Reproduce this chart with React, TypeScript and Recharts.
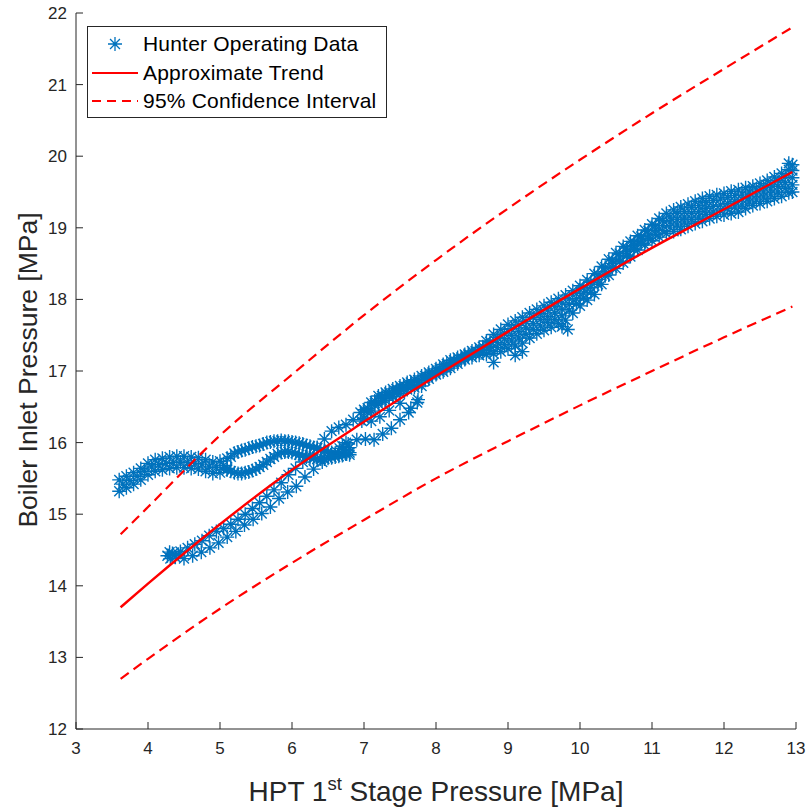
import React from 'react';
import { ComposedChart, Scatter, Line, XAxis, YAxis } from 'recharts';

const BLUE = '#0072BD';
const RED = '#FF0000';
const AXIS = '#262626';
const FONT = '"Liberation Sans", Arial, Helvetica, sans-serif';

const xTicks = [3, 4, 5, 6, 7, 8, 9, 10, 11, 12, 13];
const yTicks = [12, 13, 14, 15, 16, 17, 18, 19, 20, 21, 22];

// Dense operating band (x = 7.0 … 12.9)
const bandX = [7.0, 7.1, 7.2, 7.3, 7.4, 7.5, 7.6, 7.7, 7.8, 7.9, 8.0, 8.1, 8.2, 8.3, 8.4, 8.5, 8.6, 8.7, 8.8, 8.9, 9.0, 9.1, 9.2, 9.3, 9.4, 9.5, 9.6, 9.7, 9.8, 9.9, 10.0, 10.1, 10.2, 10.3, 10.4, 10.5, 10.6, 10.7, 10.8, 10.9, 11.0, 11.1, 11.2, 11.3, 11.4, 11.5, 11.6, 11.7, 11.8, 11.9, 12.0, 12.1, 12.2, 12.3, 12.4, 12.5, 12.6, 12.7, 12.8, 12.9];
const bandTopY = [16.46, 16.56, 16.65, 16.70, 16.75, 16.79, 16.84, 16.88, 16.93, 16.98, 17.03, 17.09, 17.15, 17.19, 17.23, 17.28, 17.33, 17.42, 17.51, 17.58, 17.65, 17.70, 17.75, 17.81, 17.86, 17.91, 17.96, 18.01, 18.06, 18.12, 18.19, 18.27, 18.36, 18.46, 18.56, 18.65, 18.74, 18.81, 18.89, 18.97, 19.05, 19.13, 19.20, 19.25, 19.29, 19.33, 19.37, 19.41, 19.44, 19.46, 19.48, 19.51, 19.53, 19.56, 19.58, 19.62, 19.66, 19.71, 19.76, 19.81];
const bandBotY = [16.34, 16.44, 16.54, 16.59, 16.64, 16.69, 16.74, 16.77, 16.79, 16.89, 16.95, 16.99, 17.04, 17.10, 17.16, 17.19, 17.22, 17.23, 17.24, 17.27, 17.31, 17.35, 17.39, 17.46, 17.52, 17.57, 17.61, 17.66, 17.71, 17.81, 17.91, 17.99, 18.07, 18.21, 18.34, 18.43, 18.51, 18.60, 18.69, 18.76, 18.82, 18.87, 18.92, 18.95, 18.98, 19.02, 19.06, 19.09, 19.13, 19.16, 19.18, 19.20, 19.22, 19.27, 19.31, 19.34, 19.37, 19.41, 19.44, 19.49];
const bandMidX = [7.05, 7.15, 7.25, 7.35, 7.45, 7.55, 7.65, 7.75, 7.85, 7.95, 8.05, 8.15, 8.25, 8.35, 8.45, 8.55, 8.65, 8.75, 8.85, 8.95, 9.05, 9.15, 9.25, 9.35, 9.45, 9.55, 9.65, 9.75, 9.85, 9.95, 10.05, 10.15, 10.25, 10.35, 10.45, 10.55, 10.65, 10.75, 10.85, 10.95, 11.05, 11.15, 11.25, 11.35, 11.45, 11.55, 11.65, 11.75, 11.85, 11.95, 12.05, 12.15, 12.25, 12.35, 12.45, 12.55, 12.65, 12.75, 12.85];
const bandMidY = [16.45, 16.55, 16.62, 16.67, 16.72, 16.76, 16.81, 16.84, 16.90, 16.96, 17.01, 17.07, 17.12, 17.17, 17.22, 17.26, 17.30, 17.35, 17.40, 17.45, 17.50, 17.55, 17.60, 17.66, 17.72, 17.76, 17.81, 17.86, 17.93, 18.01, 18.09, 18.17, 18.28, 18.39, 18.50, 18.58, 18.67, 18.75, 18.83, 18.90, 18.97, 19.03, 19.08, 19.12, 19.15, 19.20, 19.23, 19.27, 19.30, 19.32, 19.34, 19.37, 19.40, 19.43, 19.46, 19.50, 19.54, 19.58, 19.63];
const bandUpperMidY = [16.48, 16.58, 16.65, 16.70, 16.75, 16.79, 16.84, 16.87, 16.93, 16.98, 17.04, 17.10, 17.15, 17.19, 17.24, 17.28, 17.34, 17.41, 17.47, 17.53, 17.59, 17.64, 17.69, 17.75, 17.80, 17.85, 17.90, 17.95, 18.01, 18.08, 18.16, 18.24, 18.35, 18.45, 18.55, 18.64, 18.72, 18.80, 18.88, 18.96, 19.03, 19.10, 19.15, 19.20, 19.23, 19.28, 19.31, 19.35, 19.38, 19.40, 19.42, 19.45, 19.47, 19.50, 19.53, 19.57, 19.61, 19.66, 19.71];
const bandLowerMidY = [16.42, 16.52, 16.59, 16.64, 16.69, 16.74, 16.78, 16.81, 16.87, 16.94, 16.99, 17.04, 17.10, 17.15, 17.20, 17.23, 17.26, 17.29, 17.33, 17.37, 17.42, 17.46, 17.51, 17.58, 17.63, 17.68, 17.72, 17.77, 17.85, 17.94, 18.02, 18.10, 18.21, 18.33, 18.44, 18.53, 18.61, 18.70, 18.78, 18.85, 18.91, 18.96, 19.01, 19.04, 19.08, 19.12, 19.15, 19.19, 19.22, 19.25, 19.27, 19.29, 19.32, 19.36, 19.39, 19.43, 19.47, 19.50, 19.55];
const bandCap: [number, number][] = [[12.95, 19.5], [12.95, 19.6], [12.95, 19.7], [12.95, 19.8], [12.95, 19.88], [12.9, 19.9]];

// Upper-left branch (x = 3.6 … 5.1)
const leftX = [3.6, 3.7, 3.8, 3.9, 4.0, 4.1, 4.2, 4.3, 4.4, 4.5, 4.6, 4.7, 4.8, 4.9, 5.0, 5.1];
const leftTopY = [15.48, 15.53, 15.58, 15.64, 15.71, 15.76, 15.78, 15.80, 15.81, 15.81, 15.80, 15.79, 15.76, 15.73, 15.74, 15.78];
const leftBotY = [15.32, 15.37, 15.42, 15.48, 15.55, 15.60, 15.62, 15.64, 15.65, 15.65, 15.64, 15.63, 15.60, 15.57, 15.58, 15.62];
const leftMidX = [3.65, 3.75, 3.85, 3.95, 4.05, 4.15, 4.25, 4.35, 4.45, 4.55, 4.65, 4.75, 4.85, 4.95, 5.05];
const leftMidY = [15.42, 15.47, 15.53, 15.60, 15.66, 15.69, 15.71, 15.72, 15.73, 15.72, 15.71, 15.70, 15.66, 15.65, 15.68];

// Loop between 5.1 and 6.8
const loopUpper: [number, number][] = [[5.15, 15.80], [5.2, 15.85], [5.25, 15.87], [5.3, 15.89], [5.35, 15.9], [5.4, 15.92], [5.45, 15.94], [5.5, 15.95], [5.55, 15.96], [5.6, 15.98], [5.65, 16.0], [5.7, 16.01], [5.75, 16.02], [5.8, 16.02], [5.85, 16.03], [5.9, 16.02], [5.95, 16.02], [6.0, 16.01], [6.05, 16.0], [6.1, 15.99], [6.15, 15.98], [6.2, 15.96], [6.25, 15.95], [6.3, 15.93], [6.35, 15.92], [6.4, 15.90], [6.45, 15.88], [6.5, 15.87], [6.55, 15.86], [6.6, 15.85], [6.65, 15.85], [6.7, 15.84], [6.75, 15.84], [6.8, 15.83]];
const loopLower: [number, number][] = [[5.1, 15.64], [5.15, 15.6], [5.2, 15.58], [5.25, 15.57], [5.3, 15.57], [5.35, 15.58], [5.4, 15.59], [5.45, 15.61], [5.5, 15.63], [5.55, 15.66], [5.6, 15.69], [5.65, 15.73], [5.7, 15.77], [5.75, 15.8], [5.8, 15.84], [5.85, 15.86], [5.9, 15.87], [5.95, 15.87], [6.0, 15.86], [6.05, 15.85], [6.1, 15.83], [6.15, 15.82], [6.2, 15.8], [6.25, 15.79], [6.3, 15.78], [6.35, 15.77], [6.4, 15.77], [6.45, 15.77], [6.5, 15.78], [6.55, 15.79], [6.6, 15.8], [6.65, 15.81], [6.7, 15.82], [6.75, 15.84], [6.8, 15.86]];
const loopBlob: [number, number][] = [[6.7, 15.95], [6.75, 16.0], [6.8, 15.93], [6.72, 15.9]];

// Lower branch rising along the trend
const lowStart: [number, number][] = [[4.27, 14.42], [4.31, 14.38], [4.34, 14.45], [4.38, 14.4], [4.3, 14.47], [4.42, 14.44]];
const lowUpperRow: [number, number][] = [[4.45, 14.48], [4.55, 14.53], [4.65, 14.58], [4.75, 14.63], [4.85, 14.7], [4.95, 14.76], [5.05, 14.8], [5.15, 14.86], [5.25, 14.93], [5.35, 15.0], [5.45, 15.08], [5.55, 15.16], [5.65, 15.25], [5.75, 15.34], [5.85, 15.44], [5.95, 15.55], [6.05, 15.64], [6.15, 15.73], [6.25, 15.82], [6.35, 15.93], [6.45, 16.05], [6.55, 16.16], [6.65, 16.21], [6.75, 16.25], [6.85, 16.32], [6.95, 16.42]];
const lowLowerRow: [number, number][] = [[4.5, 14.38], [4.62, 14.42], [4.74, 14.47], [4.86, 14.53], [4.98, 14.6], [5.1, 14.68], [5.22, 14.76], [5.34, 14.85], [5.46, 14.93], [5.58, 15.01], [5.7, 15.1], [5.82, 15.22], [5.94, 15.31], [6.06, 15.39], [6.18, 15.52], [6.3, 15.63], [6.42, 15.73], [6.54, 15.82], [6.66, 15.92], [6.78, 15.98], [6.9, 16.04], [7.02, 16.05], [7.14, 16.04], [7.26, 16.12], [7.38, 16.2], [7.5, 16.32], [7.62, 16.42], [7.74, 16.56]];
const lowExtra: [number, number][] = [[6.97, 16.3], [7.1, 16.3], [7.22, 16.36], [7.35, 16.45], [7.5, 16.55], [7.65, 16.48], [7.75, 16.6]];
const outliers: [number, number][] = [[8.8, 17.12], [9.1, 17.22], [9.2, 17.27], [9.83, 17.58], [9.75, 17.62]];

// Fitted trend and 95% confidence interval
const fitX = [3.62, 4, 5, 6, 7, 8, 9, 10, 11, 12, 12.95];
const trendY = [13.70, 14.03, 14.86, 15.62, 16.29, 16.93, 17.55, 18.15, 18.72, 19.26, 19.78];
const upperY = [14.72, 15.10, 16.10, 16.95, 17.78, 18.55, 19.27, 19.95, 20.60, 21.22, 21.80];
const lowerY = [12.70, 12.98, 13.68, 14.32, 14.92, 15.50, 16.02, 16.52, 17.00, 17.47, 17.90];

const zip = (xs: number[], ys: number[]) => xs.map((x, i) => ({ x, y: ys[i] }));
const pairs = (p: [number, number][]) => p.map(([x, y]) => ({ x, y }));

const scatterData = [
  ...zip(leftX, leftTopY), ...zip(leftX, leftBotY), ...zip(leftMidX, leftMidY),
  ...pairs(loopUpper), ...pairs(loopLower), ...pairs(loopBlob),
  ...pairs(lowStart), ...pairs(lowUpperRow), ...pairs(lowLowerRow), ...pairs(lowExtra),
  ...zip(bandX, bandTopY), ...zip(bandX, bandBotY), ...zip(bandMidX, bandMidY),
  ...zip(bandMidX, bandUpperMidY), ...zip(bandMidX, bandLowerMidY),
  ...pairs(bandCap), ...pairs(outliers),
];
const trendData = zip(fitX, trendY);
const upperData = zip(fitX, upperY);
const lowerData = zip(fitX, lowerY);

const starPath = (cx: number, cy: number, r: number) => {
  const d = r * 0.7071;
  return `M${cx - r},${cy}L${cx + r},${cy}M${cx},${cy - r}L${cx},${cy + r}M${cx - d},${cy - d}L${cx + d},${cy + d}M${cx - d},${cy + d}L${cx + d},${cy - d}`;
};

const StarMark = (props: any) => {
  const { cx, cy } = props;
  if (cx == null || cy == null) return null;
  return <path d={starPath(cx, cy, 7)} stroke={BLUE} strokeWidth={1.4} fill="none" />;
};

const XLabel = (props: any) => {
  const vb = props.viewBox || { x: 76, width: 720 };
  const cx = vb.x + vb.width / 2;
  return (
    <text x={cx} y={801} textAnchor="middle" fontSize={28} fill={AXIS} fontFamily={FONT}>
      HPT 1<tspan dy={-11} fontSize={18.5}>st</tspan>
      <tspan dy={11}>{'\u00a0Stage Pressure [MPa]'}</tspan>
    </text>
  );
};

const YLabel = () => (
  <text x={37} y={370} transform="rotate(-90 37 370)" textAnchor="middle" fontSize={26.5} fill={AXIS} fontFamily={FONT}>
    Boiler Inlet Pressure [MPa]
  </text>
);

const LegendBox = () => (
  <svg width={300} height={92} style={{ position: 'absolute', left: 87, top: 26 }}>
    <rect x={0.5} y={0.5} width={299} height={91} fill="#fff" stroke={AXIS} strokeWidth={1} />
    <path d={starPath(28, 18, 7)} stroke={BLUE} strokeWidth={1.3} fill="none" />
    <line x1={5} y1={47} x2={51} y2={47} stroke={RED} strokeWidth={2.2} />
    <line x1={5} y1={75} x2={51} y2={75} stroke={RED} strokeWidth={2.2} strokeDasharray="9 6" />
    <g fontFamily={FONT} fontSize={21} fill="#000" letterSpacing={0.2}>
      <text x={56} y={25}>Hunter Operating Data</text>
      <text x={56} y={54}>Approximate Trend</text>
      <text x={56} y={82}>95% Confidence Interval</text>
    </g>
  </svg>
);

export default function App() {
  const lineZ: any = { zIndex: 900 };
  return (
    <div style={{ position: 'absolute', left: 0, top: 0, width: 812, height: 809, background: '#fff' }}>
      <ComposedChart width={812} height={809} margin={{ top: 13, right: 16, bottom: 0, left: 0 }}>
        <XAxis
          type="number"
          dataKey="x"
          domain={[3, 13]}
          ticks={xTicks}
          interval={0}
          height={80}
          tickSize={-7}
          tickMargin={20}
          axisLine={{ stroke: AXIS }}
          tickLine={{ stroke: AXIS }}
          tick={{ fill: AXIS, fontSize: 17, fontFamily: FONT }}
          label={{ content: XLabel }}
        />
        <YAxis
          type="number"
          dataKey="y"
          domain={[12, 22]}
          ticks={yTicks}
          interval={0}
          width={76}
          tickSize={-7}
          tickMargin={16}
          axisLine={{ stroke: AXIS }}
          tickLine={{ stroke: AXIS }}
          tick={{ fill: AXIS, fontSize: 17, fontFamily: FONT }}
          label={{ content: YLabel }}
        />
        <Scatter data={scatterData} dataKey="y" shape={StarMark} isAnimationActive={false} />
        <Line {...lineZ} data={upperData} dataKey="y" type="monotone" stroke={RED} strokeWidth={2.2} strokeDasharray="10 6" dot={false} activeDot={false} isAnimationActive={false} />
        <Line {...lineZ} data={lowerData} dataKey="y" type="monotone" stroke={RED} strokeWidth={2.2} strokeDasharray="10 6" dot={false} activeDot={false} isAnimationActive={false} />
        <Line {...lineZ} data={trendData} dataKey="y" type="monotone" stroke={RED} strokeWidth={2.4} dot={false} activeDot={false} isAnimationActive={false} />
      </ComposedChart>
      <LegendBox />
    </div>
  );
}
